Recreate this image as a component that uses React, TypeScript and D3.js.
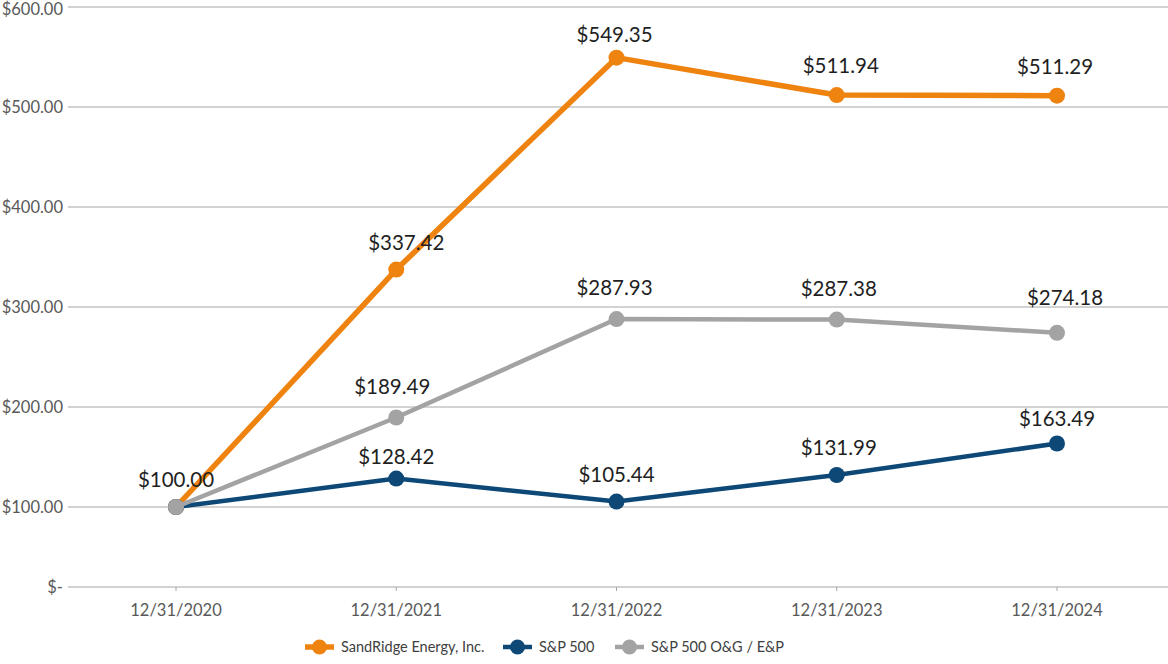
// ─ Imports ──────────────────────────────────────────────────────────────────────────────────────
import * as d3 from 'd3';
import { ReactElement } from 'react';

// ─ Data ─────────────────────────────────────────────────────────────────────────────────────────
const years = ['12/31/2020', '12/31/2021', '12/31/2022', '12/31/2023', '12/31/2024'];
const sandRidge = [100.0, 337.42, 549.35, 511.94, 511.29];
const sp500 = [100.0, 128.42, 105.44, 131.99, 163.49];
const spOilGas = [100.0, 189.49, 287.93, 287.38, 274.18];
const yTicks = [100, 200, 300, 400, 500, 600];
const yBase = 20; // bottom line of the chart, labelled "$-"

const seriesNames = ['SandRidge Energy, Inc.', 'S&P 500', 'S&P 500 O&G / E&P'];

// ─ Layout / style ───────────────────────────────────────────────────────────────────────────────
const W = 1168;
const H = 664;
const FONT = 'Lato, "Open Sans", sans-serif';

const series = [
  { name: seriesNames[0], values: sandRidge, color: '#EE830F', width: 5.5 },
  { name: seriesNames[1], values: sp500, color: '#0D4877', width: 4.5 },
  { name: seriesNames[2], values: spOilGas, color: '#A3A3A3', width: 4.5 },
];

// label nudges (dx, dy) per series / point, only placement
const labelNudge: [number, number][][] = [
  [[0, 0], [10, 0], [-2, 4], [4, -2], [-2, -2]],
  [[0, 0], [0, 5], [0, 0], [2, 0], [0, 2]],
  [[0, 0], [-4, -4], [-2, -4], [2, -4], [8, -8]],
];

const fmt = (v: number) => `$${v.toFixed(2)}`;

const App = (): ReactElement => {
  const x = d3.scalePoint<string>().domain(years).range([176, 1057]);
  const y = d3.scaleLinear().domain([yBase, 600]).range([587, 7]);

  const line = d3.line<number>()
    .x((_, i) => x(years[i]) as number)
    .y(d => y(d));

  const legendX = [305, 503, 615];

  return (
    <div style={{ position: 'absolute', left: 0, top: 0, width: W, height: H, background: '#fff' }}>
      <svg width={W} height={H} style={{ display: 'block', fontFamily: FONT }}>
        {/* Grid + y labels */}
        {[yBase, ...yTicks].map(t => (
          <g key={t}>
            <line x1={68} x2={W} y1={y(t)} y2={y(t)} stroke="#A6A6A6" strokeWidth={1} />
            <text
              x={63}
              y={Math.max(y(t), 9)}
              dy="0.35em"
              textAnchor="end"
              fontSize={16.5}
              fill="#595959"
            >
              {t === yBase ? '$-' : fmt(t)}
            </text>
          </g>
        ))}

        {/* X ticks + labels */}
        {years.map(yr => (
          <g key={yr}>
            <line x1={x(yr)} x2={x(yr)} y1={y(yBase)} y2={y(yBase) + 4} stroke="#A6A6A6" strokeWidth={1} />
            <text x={x(yr)} y={616} textAnchor="middle" fontSize={16.5} fill="#595959">
              {yr}
            </text>
          </g>
        ))}

        {/* Lines */}
        {series.map(s => (
          <g key={s.name}>
            <path d={line(s.values) || ''} fill="none" stroke={s.color} strokeWidth={s.width} strokeLinejoin="round" />
            {s.values.map((v, i) => (
              <circle key={i} cx={x(years[i])} cy={y(v)} r={8} fill={s.color} />
            ))}
          </g>
        ))}

        {/* Data labels */}
        {series.map((s, si) => (
          <g key={`lbl-${s.name}`}>
            {s.values.map((v, i) => {
              if (si > 0 && i === 0) { return null; }
              const [dx, dy] = labelNudge[si][i];
              return (
                <text
                  key={i}
                  x={(x(years[i]) as number) + dx}
                  y={y(v) - 20 + dy}
                  textAnchor="middle"
                  fontSize={20.5}
                  fill="#1F1F1F"
                >
                  {fmt(v)}
                </text>
              );
            })}
          </g>
        ))}

        {/* Legend */}
        {series.map((s, i) => (
          <g key={`leg-${s.name}`} transform={`translate(${legendX[i]},647)`}>
            <line x1={0} x2={29} y1={0} y2={0} stroke={s.color} strokeWidth={s.width} />
            <circle cx={14.5} cy={0} r={7.5} fill={s.color} />
            <text x={36} y={0} dy="0.35em" fontSize={14.5} fill="#404040">
              {s.name}
            </text>
          </g>
        ))}
      </svg>
    </div>
  );
};

// ─ Exports ──────────────────────────────────────────────────────────────────────────────────────
export default App;
